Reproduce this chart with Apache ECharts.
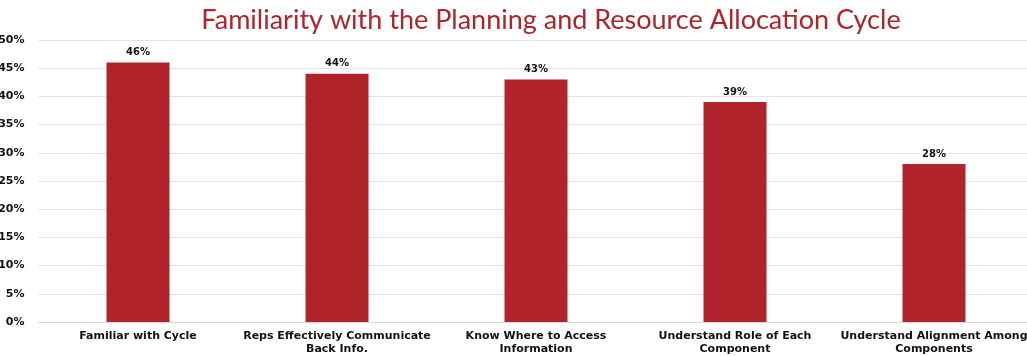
<!DOCTYPE html>
<html><head><meta charset="utf-8">
<script src="https://cdn.jsdelivr.net/npm/echarts@6/dist/echarts.min.js"></script>
<style>html,body{margin:0;padding:0;background:#fff}#c{width:1027px;height:356px}</style>
</head><body><div id="c"></div>
<script>
const titleText = 'Familiarity with the Planning and Resource Allocation Cycle';
const categories = ['Familiar with Cycle','Reps Effectively Communicate\nBack Info.','Know Where to Access\nInformation','Understand Role of Each\nComponent','Understand Alignment Among\nComponents'];
const values = [46, 44, 43, 39, 28];
const yMin = 0, yMax = 50, yStep = 5;

const chart = echarts.init(document.getElementById('c'));
chart.setOption({
  animation:false,
  title:{text:titleText,left:546,top:2,textAlign:'center',textStyle:{fontFamily:'Lato',fontWeight:'normal',fontSize:27,color:'#B0232A'}},
  grid:{left:38.5,right:-6.5,top:40,bottom:34,containLabel:false,outerBoundsMode:'none'},
  xAxis:{type:'category',data:categories,axisTick:{show:false},axisLine:{lineStyle:{color:'#d9d9d9'}},
    axisLabel:{interval:0,fontFamily:'DejaVu Sans',fontWeight:'bold',fontSize:11,color:'#111',lineHeight:13,margin:8}},
  yAxis:{type:'value',min:yMin,max:yMax,interval:yStep,axisLine:{show:false},axisTick:{show:false},
    splitLine:{lineStyle:{color:'#e3e3e3'}},
    axisLabel:{formatter:'{value}%',fontFamily:'DejaVu Sans',fontWeight:'bold',fontSize:11,color:'#111',margin:14}},
  series:[{type:'bar',data:values,barWidth:63,itemStyle:{color:'#B0232A'},
    label:{show:true,position:'top',distance:5,formatter:'{c}%',fontFamily:'DejaVu Sans',fontWeight:'bold',fontSize:10,color:'#111'}}]
});
</script></body></html>
